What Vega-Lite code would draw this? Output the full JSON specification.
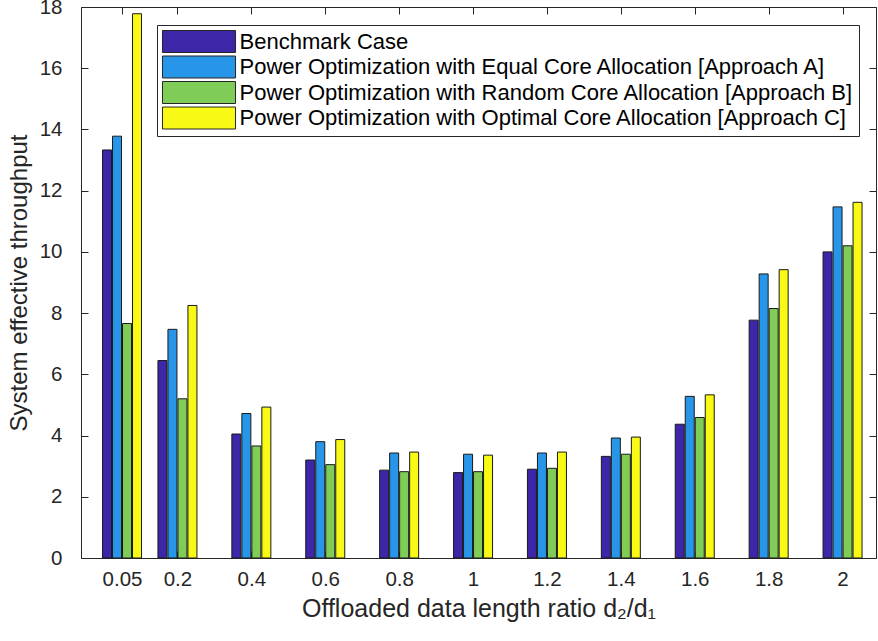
{
  "$schema": "https://vega.github.io/schema/vega-lite/v6.json",
  "autosize": {"type": "none"},
  "padding": {"left": 81, "top": 7, "right": 2, "bottom": 83},
  "width": 795,
  "height": 551,
  "background": "white",
  "config": {
    "view": {"stroke": null},
    "font": "Liberation Sans",
    "axis": {"grid": false, "domainColor": "#262626", "tickColor": "#262626", "labelColor": "#262626", "titleColor": "#262626", "labelFont": "Liberation Sans", "titleFont": "Liberation Sans", "titleFontWeight": "normal", "labelFontSize": 20.5, "titleFontSize": 24, "tickSize": -7, "domainWidth": 1, "tickWidth": 1}
  },
  "data": {
    "values": [
      {"d": 0.05, "s": "Benchmark Case", "v": 13.33},
      {"d": 0.05, "s": "Power Optimization with Equal Core Allocation [Approach A]", "v": 13.78},
      {"d": 0.05, "s": "Power Optimization with Random Core Allocation [Approach B]", "v": 7.66},
      {"d": 0.05, "s": "Power Optimization with Optimal Core Allocation [Approach C]", "v": 17.78},
      {"d": 0.2, "s": "Benchmark Case", "v": 6.45},
      {"d": 0.2, "s": "Power Optimization with Equal Core Allocation [Approach A]", "v": 7.47},
      {"d": 0.2, "s": "Power Optimization with Random Core Allocation [Approach B]", "v": 5.2},
      {"d": 0.2, "s": "Power Optimization with Optimal Core Allocation [Approach C]", "v": 8.25},
      {"d": 0.4, "s": "Benchmark Case", "v": 4.05},
      {"d": 0.4, "s": "Power Optimization with Equal Core Allocation [Approach A]", "v": 4.72},
      {"d": 0.4, "s": "Power Optimization with Random Core Allocation [Approach B]", "v": 3.66},
      {"d": 0.4, "s": "Power Optimization with Optimal Core Allocation [Approach C]", "v": 4.93},
      {"d": 0.6, "s": "Benchmark Case", "v": 3.2},
      {"d": 0.6, "s": "Power Optimization with Equal Core Allocation [Approach A]", "v": 3.8},
      {"d": 0.6, "s": "Power Optimization with Random Core Allocation [Approach B]", "v": 3.05},
      {"d": 0.6, "s": "Power Optimization with Optimal Core Allocation [Approach C]", "v": 3.87},
      {"d": 0.8, "s": "Benchmark Case", "v": 2.87},
      {"d": 0.8, "s": "Power Optimization with Equal Core Allocation [Approach A]", "v": 3.43},
      {"d": 0.8, "s": "Power Optimization with Random Core Allocation [Approach B]", "v": 2.82},
      {"d": 0.8, "s": "Power Optimization with Optimal Core Allocation [Approach C]", "v": 3.46},
      {"d": 1, "s": "Benchmark Case", "v": 2.79},
      {"d": 1, "s": "Power Optimization with Equal Core Allocation [Approach A]", "v": 3.39},
      {"d": 1, "s": "Power Optimization with Random Core Allocation [Approach B]", "v": 2.82},
      {"d": 1, "s": "Power Optimization with Optimal Core Allocation [Approach C]", "v": 3.36},
      {"d": 1.2, "s": "Benchmark Case", "v": 2.9},
      {"d": 1.2, "s": "Power Optimization with Equal Core Allocation [Approach A]", "v": 3.43},
      {"d": 1.2, "s": "Power Optimization with Random Core Allocation [Approach B]", "v": 2.93},
      {"d": 1.2, "s": "Power Optimization with Optimal Core Allocation [Approach C]", "v": 3.46},
      {"d": 1.4, "s": "Benchmark Case", "v": 3.32},
      {"d": 1.4, "s": "Power Optimization with Equal Core Allocation [Approach A]", "v": 3.92},
      {"d": 1.4, "s": "Power Optimization with Random Core Allocation [Approach B]", "v": 3.39},
      {"d": 1.4, "s": "Power Optimization with Optimal Core Allocation [Approach C]", "v": 3.95},
      {"d": 1.6, "s": "Benchmark Case", "v": 4.37},
      {"d": 1.6, "s": "Power Optimization with Equal Core Allocation [Approach A]", "v": 5.28},
      {"d": 1.6, "s": "Power Optimization with Random Core Allocation [Approach B]", "v": 4.59},
      {"d": 1.6, "s": "Power Optimization with Optimal Core Allocation [Approach C]", "v": 5.33},
      {"d": 1.8, "s": "Benchmark Case", "v": 7.77},
      {"d": 1.8, "s": "Power Optimization with Equal Core Allocation [Approach A]", "v": 9.28},
      {"d": 1.8, "s": "Power Optimization with Random Core Allocation [Approach B]", "v": 8.15},
      {"d": 1.8, "s": "Power Optimization with Optimal Core Allocation [Approach C]", "v": 9.42},
      {"d": 2, "s": "Benchmark Case", "v": 10.0},
      {"d": 2, "s": "Power Optimization with Equal Core Allocation [Approach A]", "v": 11.47},
      {"d": 2, "s": "Power Optimization with Random Core Allocation [Approach B]", "v": 10.2},
      {"d": 2, "s": "Power Optimization with Optimal Core Allocation [Approach C]", "v": 11.62}
    ]
  },
  "resolve": {"axis": {"x": "independent", "y": "independent"}},
  "layer": [
    {
      "encoding": {
        "x": {"field": "d", "type": "quantitative", "scale": {"domain": [-0.0475, 2.077], "nice": false, "zero": false},
          "axis": {"orient": "bottom", "values": [0.05, 0.2, 0.4, 0.6, 0.8, 1, 1.2, 1.4, 1.6, 1.8, 2], "format": "~g", "labelPadding": 18, "labelFlush": false, "labelOverlap": false, "title": "Offloaded data length ratio d₂/d₁", "titleFontSize": 25, "titlePadding": 7}},
        "y": {"field": "v", "type": "quantitative", "scale": {"domain": [0, 18], "nice": false},
          "axis": {"orient": "left", "values": [0, 2, 4, 6, 8, 10, 12, 14, 16, 18], "labelPadding": 26, "labelFlush": false, "labelOverlap": false, "title": "System effective throughput", "titlePadding": 8}},
        "color": {"field": "s", "type": "nominal",
          "scale": {"domain": ["Benchmark Case", "Power Optimization with Equal Core Allocation [Approach A]", "Power Optimization with Random Core Allocation [Approach B]", "Power Optimization with Optimal Core Allocation [Approach C]"],
            "range": ["#3d26a8", "#2896e8", "#7fcc57", "#f8f914"]},
          "legend": {"orient": "none", "legendX": 76, "legendY": 18, "title": null, "direction": "vertical",
            "labelFont": "Liberation Sans", "labelFontSize": 22, "labelColor": "#000000", "labelLimit": 1000, "labelOffset": 29,
            "symbolType": "M-3.32,-1H3.32V1H-3.32Z", "symbolSize": 484, "symbolOffset": 25.5, "symbolStrokeColor": "#262626", "symbolStrokeWidth": 1, "symbolOpacity": 1,
            "rowPadding": -1.5, "padding": 5, "strokeColor": "#262626", "fillColor": "white"}}
      },
      "layer": [
        {"transform": [{"filter": "datum.s === 'Benchmark Case'"}], "mark": {"type": "bar", "width": 9, "xOffset": -15, "stroke": "#1a1a1a", "strokeWidth": 1}},
        {"transform": [{"filter": "datum.s === 'Power Optimization with Equal Core Allocation [Approach A]'"}], "mark": {"type": "bar", "width": 9, "xOffset": -5, "stroke": "#1a1a1a", "strokeWidth": 1}},
        {"transform": [{"filter": "datum.s === 'Power Optimization with Random Core Allocation [Approach B]'"}], "mark": {"type": "bar", "width": 9, "xOffset": 5, "stroke": "#1a1a1a", "strokeWidth": 1}},
        {"transform": [{"filter": "datum.s === 'Power Optimization with Optimal Core Allocation [Approach C]'"}], "mark": {"type": "bar", "width": 9, "xOffset": 15, "stroke": "#1a1a1a", "strokeWidth": 1}}
      ]
    },
    {
      "mark": {"type": "point", "opacity": 0},
      "encoding": {
        "x": {"field": "d", "type": "quantitative", "axis": {"orient": "top", "values": [0.05, 0.2, 0.4, 0.6, 0.8, 1, 1.2, 1.4, 1.6, 1.8, 2], "labels": false, "title": null}},
        "y": {"field": "v", "type": "quantitative", "axis": {"orient": "right", "values": [0, 2, 4, 6, 8, 10, 12, 14, 16, 18], "labels": false, "title": null}}
      }
    }
  ]
}
